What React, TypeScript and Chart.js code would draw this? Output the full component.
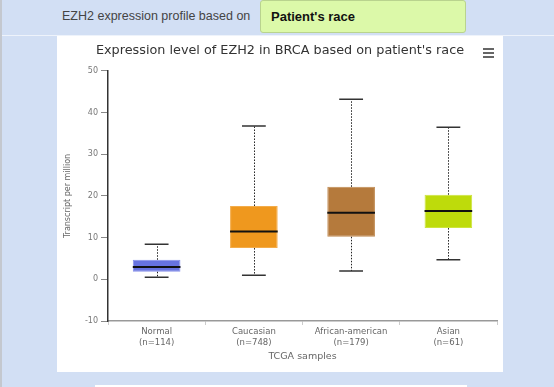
import React, { useEffect, useRef } from "react";
import { Chart, registerables } from "chart.js";

Chart.register(...registerables);

const categories = ["Normal", "Caucasian", "African-american", "Asian"];
const sampleCounts = [114, 748, 179, 61];
const minVals = [0.5, 1.0, 2.0, 4.7];
const q1Vals = [1.8, 7.5, 10.2, 12.3];
const medianVals = [2.95, 11.5, 16.0, 16.4];
const q3Vals = [4.7, 17.6, 22.2, 20.3];
const maxVals = [8.4, 36.8, 43.2, 36.5];
const boxColors = ["#6773e0", "#ef981e", "#b57a3c", "#bedb0b"];
const boxBorders = ["#8790ea", "#f3ac4a", "#c08a52", "#cde43c"];

const whiskerPlugin = {
  id: "whiskers",
  afterDatasetsDraw(chart: any) {
    const ctx = chart.ctx;
    const x = chart.scales.x;
    const y = chart.scales.y;
    const meta = chart.getDatasetMeta(0);
    ctx.save();
    categories.forEach((_, i) => {
      const bar = meta.data[i];
      const cx = x.getPixelForValue(i);
      const half = bar ? bar.width / 2 : 24;
      const capHalf = half / 2;
      const yMin = y.getPixelForValue(minVals[i]);
      const yMax = y.getPixelForValue(maxVals[i]);
      const yQ1 = y.getPixelForValue(q1Vals[i]);
      const yQ3 = y.getPixelForValue(q3Vals[i]);
      const yMed = y.getPixelForValue(medianVals[i]);
      ctx.strokeStyle = "#222";
      ctx.lineWidth = 1;
      ctx.setLineDash([1.5, 1.5]);
      ctx.beginPath();
      ctx.moveTo(Math.round(cx) + 0.5, yQ3);
      ctx.lineTo(Math.round(cx) + 0.5, yMax);
      ctx.moveTo(Math.round(cx) + 0.5, yQ1);
      ctx.lineTo(Math.round(cx) + 0.5, yMin);
      ctx.stroke();
      ctx.setLineDash([]);
      ctx.lineWidth = 1.5;
      ctx.strokeStyle = "#333";
      ctx.beginPath();
      ctx.moveTo(cx - capHalf, yMax);
      ctx.lineTo(cx + capHalf, yMax);
      ctx.moveTo(cx - capHalf, yMin);
      ctx.lineTo(cx + capHalf, yMin);
      ctx.stroke();
      ctx.lineWidth = 2;
      ctx.strokeStyle = "#111";
      ctx.beginPath();
      ctx.moveTo(cx - half, yMed);
      ctx.lineTo(cx + half, yMed);
      ctx.stroke();
    });
    ctx.restore();
  },
};

function BoxChart() {
  const ref = useRef<HTMLCanvasElement | null>(null);
  useEffect(() => {
    if (!ref.current) return;
    const chart = new Chart(ref.current, {
      type: "bar",
      data: {
        labels: categories.map((c, i) => [c, `(n=${sampleCounts[i]})`]),
        datasets: [
          {
            data: categories.map((_, i) => [q1Vals[i], q3Vals[i]]) as any,
            backgroundColor: boxColors,
            borderColor: boxBorders,
            borderWidth: 1,
            borderSkipped: false,
            barPercentage: 0.49,
            categoryPercentage: 1,
          },
        ],
      },
      options: {
        animation: false,
        responsive: false,
        maintainAspectRatio: false,
        layout: { padding: { left: 6, right: 6, top: 0, bottom: 8 } },
        plugins: {
          legend: { display: false },
          tooltip: { enabled: false },
          title: {
            display: true,
            text: "Expression level of EZH2 in BRCA based on patient's race",
            color: "#333",
            font: { family: "DejaVu Sans", size: 12.8, weight: "normal" },
            padding: { top: 7, bottom: 12.6 },
          },
        },
        scales: {
          x: {
            type: "category",
            afterFit: (s: any) => {
              s.height = 43;
            },
            grid: {
              display: true,
              offset: true,
              drawOnChartArea: false,
              drawTicks: true,
              tickLength: 4,
              color: "#ccc",
            },
            border: { display: true, color: "#999", width: 1.5 },
            ticks: {
              color: "#666",
              padding: 2,
              font: { family: "DejaVu Sans", size: 8.5 },
              maxRotation: 0,
            },
            title: {
              display: true,
              text: "TCGA samples",
              color: "#666",
              font: { family: "DejaVu Sans", size: 9.5 },
              padding: { top: 0, bottom: 2 },
            },
          },
          y: {
            min: -10,
            max: 50,
            afterFit: (s: any) => {
              s.width = 45;
            },
            grid: {
              display: true,
              drawOnChartArea: false,
              drawTicks: true,
              tickLength: 7,
              color: "#888",
            },
            border: { display: true, color: "#333", width: 1.5 },
            ticks: {
              stepSize: 10,
              color: "#777",
              padding: 3,
              font: { family: "DejaVu Sans", size: 8 },
            },
            title: {
              display: true,
              text: "Transcript per million",
              color: "#666",
              font: { family: "DejaVu Sans", size: 8 },
              padding: 0,
            },
          },
        },
      },
      plugins: [whiskerPlugin],
    });
    return () => chart.destroy();
  }, []);
  return <canvas ref={ref} width={446} height={336} style={{ display: "block", width: 446, height: 336 }} />;
}

export default function App() {
  return (
    <div
      style={{
        position: "fixed",
        left: 0,
        top: 0,
        width: 554,
        height: 387,
        background: "#d2dff4",
        overflow: "hidden",
        fontFamily: "Liberation Sans, Arial, sans-serif",
      }}
    >
      <div style={{ position: "absolute", left: 0, top: 0, width: 2, height: 387, background: "#c4c8cf" }} />
      <div style={{ position: "absolute", left: 2, top: 35, width: 552, height: 1, background: "#eef3fb" }} />
      <div
        style={{
          position: "absolute",
          left: 62,
          top: 9,
          fontSize: 12.5,
          color: "#444",
          whiteSpace: "nowrap",
        }}
      >
        EZH2 expression profile based on
      </div>
      <div
        style={{
          position: "absolute",
          left: 260,
          top: 0,
          width: 206,
          height: 33,
          background: "#dcf9a9",
          border: "1px solid #b9d38e",
          borderRadius: 3,
          boxSizing: "border-box",
        }}
      >
        <div style={{ position: "absolute", left: 10, top: 8, fontSize: 13, fontWeight: "bold", color: "#111", whiteSpace: "nowrap" }}>
          Patient's race
        </div>
      </div>
      <div style={{ position: "absolute", left: 57, top: 36, width: 446, height: 336, background: "#fff" }}>
        <BoxChart />
        <div style={{ position: "absolute", left: 426, top: 12, width: 11, height: 10 }}>
          <div style={{ position: "absolute", left: 0, top: 0, width: 11, height: 2, background: "#666" }} />
          <div style={{ position: "absolute", left: 0, top: 4, width: 11, height: 2, background: "#666" }} />
          <div style={{ position: "absolute", left: 0, top: 8, width: 11, height: 2, background: "#666" }} />
        </div>
      </div>
      <div style={{ position: "absolute", left: 95, top: 385, width: 372, height: 10, background: "#fff" }} />
    </div>
  );
}
